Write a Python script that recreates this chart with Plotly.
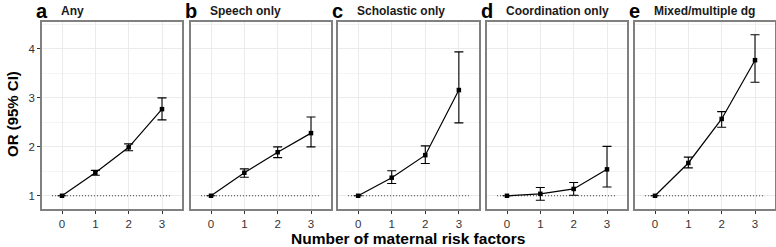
import plotly.graph_objects as go

risk_factors = [0, 1, 2, 3]
panel_letters = ["a", "b", "c", "d", "e"]
panel_titles = ["Any", "Speech only", "Scholastic only", "Coordination only", "Mixed/multiple dg"]

or_any = [1.0, 1.47, 1.99, 2.77]
lo_any = [1.0, 1.42, 1.92, 2.55]
hi_any = [1.0, 1.52, 2.06, 3.00]

or_speech = [1.0, 1.47, 1.89, 2.28]
lo_speech = [1.0, 1.38, 1.78, 2.00]
hi_speech = [1.0, 1.55, 2.00, 2.61]

or_schol = [1.0, 1.37, 1.83, 3.16]
lo_schol = [1.0, 1.25, 1.66, 2.49]
hi_schol = [1.0, 1.51, 2.02, 3.94]

or_coord = [1.0, 1.04, 1.14, 1.54]
lo_coord = [1.0, 0.91, 1.01, 1.18]
hi_coord = [1.0, 1.17, 1.27, 2.01]

or_mixed = [1.0, 1.67, 2.57, 3.77]
lo_mixed = [1.0, 1.57, 2.40, 3.32]
hi_mixed = [1.0, 1.79, 2.72, 4.29]

series = [
    (or_any, lo_any, hi_any),
    (or_speech, lo_speech, hi_speech),
    (or_schol, lo_schol, hi_schol),
    (or_coord, lo_coord, hi_coord),
    (or_mixed, lo_mixed, hi_mixed),
]

y_ticks = [1, 2, 3, 4]
x_title = "Number of maternal risk factors"
y_title = "OR (95% CI)"

W, H = 776, 247
panel_px = [(42, 182), (191, 331), (338, 479), (487, 627), (635, 775)]
top_px, bot_px = 22, 209
y_dom = [1 - bot_px / H, 1 - top_px / H]

FONT = "Liberation Sans, Arial, Helvetica, sans-serif"
fig = go.Figure()
layout = {}

for i, ((ors, los, his), (x0, x1)) in enumerate(zip(series, panel_px)):
    n = i + 1
    xa = "x" if n == 1 else f"x{n}"
    ya = "y" if n == 1 else f"y{n}"
    # dotted reference line at OR = 1
    fig.add_trace(go.Scatter(
        x=[-0.3, 3.3], y=[1, 1], mode="lines",
        line=dict(color="#444444", width=1, dash="1px,2px"),
        xaxis=xa, yaxis=ya, showlegend=False, hoverinfo="skip"))
    plus = [h - o for h, o in zip(his, ors)]
    minus = [o - l for o, l in zip(ors, los)]
    fig.add_trace(go.Scatter(
        x=risk_factors, y=ors, mode="lines+markers",
        line=dict(color="black", width=1.2),
        marker=dict(symbol="square", size=4.5, color="black"),
        error_y=dict(type="data", symmetric=False, array=plus, arrayminus=minus,
                     color="black", thickness=1.1, width=4.5),
        xaxis=xa, yaxis=ya, showlegend=False))
    xkey = "xaxis" if n == 1 else f"xaxis{n}"
    ykey = "yaxis" if n == 1 else f"yaxis{n}"
    layout[xkey] = dict(
        domain=[x0 / W, x1 / W], range=[-0.6, 3.6], anchor=ya,
        tickvals=risk_factors, ticktext=[str(v) for v in risk_factors],
        showgrid=True, gridcolor="#ebebeb", gridwidth=1,
        zeroline=False, showline=True, mirror=True, linecolor="#808080", linewidth=1.5,
        ticks="outside", ticklen=3, tickcolor="#333333", tickwidth=1,
        tickfont=dict(family=FONT, size=11.5, color="#333333"), fixedrange=True)
    layout[ykey] = dict(
        domain=y_dom, range=[0.73, 4.55], anchor=xa,
        tickvals=y_ticks, showticklabels=(n == 1),
        showgrid=True, gridcolor="#ebebeb", gridwidth=1,
        minor=dict(tickvals=[1.5, 2.5, 3.5, 4.5], showgrid=True, gridcolor="#f4f4f4", gridwidth=1),
        zeroline=False, showline=True, mirror=True, linecolor="#808080", linewidth=1.5,
        ticks="outside" if n == 1 else "", ticklen=3, tickcolor="#333333", tickwidth=1,
        tickfont=dict(family=FONT, size=11.5, color="#333333"), fixedrange=True)

annotations = []
for (x0, x1), letter, title in zip(panel_px, panel_letters, panel_titles):
    annotations.append(dict(
        text=f"<b>{letter}</b>", x=(x0 - 8) / W, y=1 - 11 / H, xref="paper", yref="paper",
        xanchor="left", yanchor="middle", showarrow=False,
        font=dict(family=FONT, size=20, color="black")))
    annotations.append(dict(
        text=f"<b>{title}</b>", x=(x0 + 17) / W, y=1 - 11 / H, xref="paper", yref="paper",
        xanchor="left", yanchor="middle", showarrow=False,
        font=dict(family=FONT, size=12, color="#1a1a1a")))

annotations.append(dict(
    text=f"<b>{x_title}</b>", x=408 / W, y=1 - 238 / H, xref="paper", yref="paper",
    xanchor="center", yanchor="middle", showarrow=False,
    font=dict(family=FONT, size=15.5, color="black")))
annotations.append(dict(
    text=f"<b>{y_title}</b>", x=12 / W, y=1 - 114 / H, xref="paper", yref="paper",
    xanchor="center", yanchor="middle", showarrow=False, textangle=-90,
    font=dict(family=FONT, size=15, color="black")))

fig.update_layout(
    width=W, height=H, margin=dict(l=0, r=0, t=0, b=0),
    paper_bgcolor="white", plot_bgcolor="white",
    annotations=annotations, **layout)

fig.write_html("out.html", config={"displayModeBar": False},
               post_script="document.body.style.margin='0';document.body.style.overflow='hidden';")
